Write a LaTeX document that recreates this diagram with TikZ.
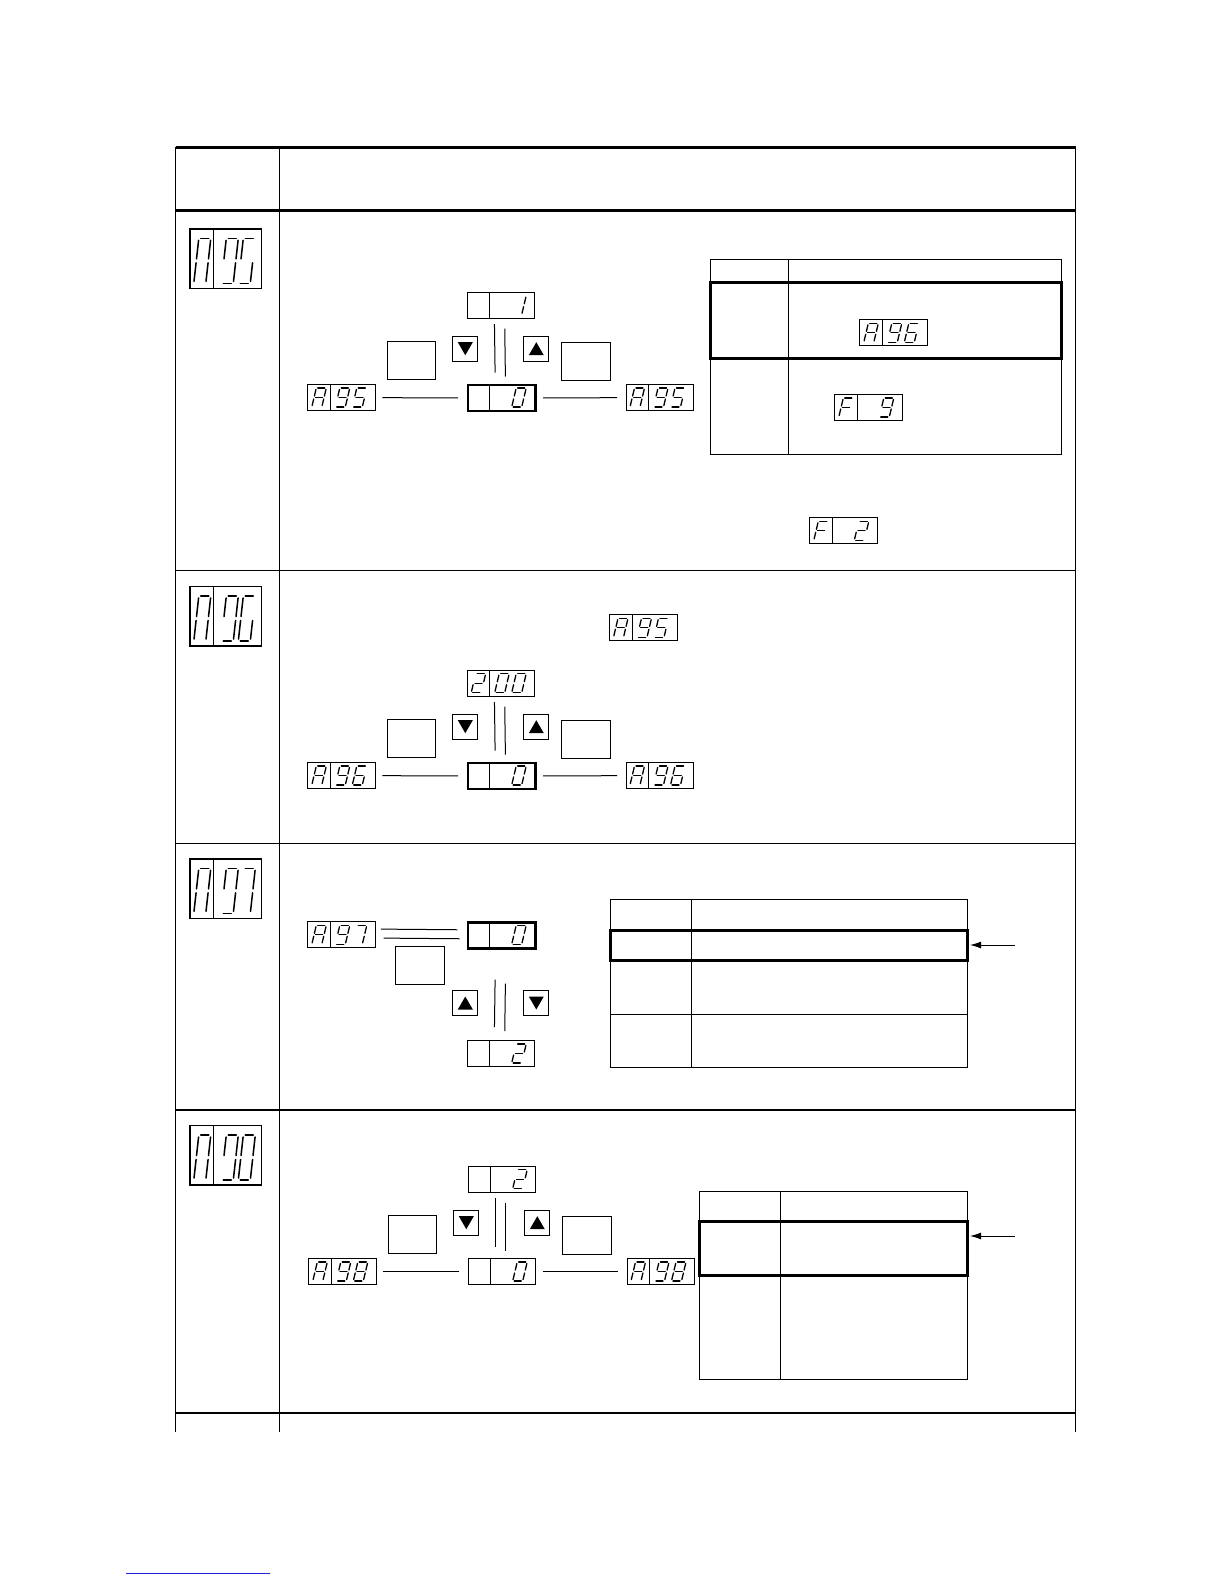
\documentclass[tikz,border=0pt]{standalone}
\usepackage{tikz}
\usetikzlibrary{positioning,arrows.meta,calc}
\usepackage{xcolor}
\definecolor{LinkBlue}{HTML}{1F1FE0}

% segment lists of the display characters (a top, b upper right, c lower right,
% d bottom, e lower left, f upper left, g middle)
\def\chA{a,b,c,e,f,g}
\def\chF{a,e,f,g}
\def\chZero{a,b,c,d,e,f}
\def\chOne{b,c}
\def\chTwo{a,b,g,e,d}
\def\chFive{a,f,g,c,d}
\def\chSix{a,f,g,e,c,d}
\def\chSeven{a,b,c}
\def\chEight{a,b,c,d,e,f,g}
\def\chNine{a,b,c,d,f,g}
% the large code displays show no middle segment
\def\bgA{a,b,c,e,f}
\def\bgFive{a,f,c,d}
\def\bgSix{a,f,e,c,d}
\def\bgSeven{a,b,c}
\def\bgEight{a,b,c,d,e,f}
\def\bgNine{a,b,c,d,f}

\tikzset{
  sseg/.style={line width=1.3pt, line cap=round, shorten <=1.5pt, shorten >=1.5pt},
  bseg/.style={line width=1.5pt, line cap=round, shorten <=2pt, shorten >=2pt},
}

% one slanted digit: x, y of lower left corner, width, height, slant, style, segments
\newcommand\segdigit[7]{%
  \path ({#1+#5},{#2-#4}) coordinate (sga1) coordinate (sgf1)
        ({#1+#5+#3},{#2-#4}) coordinate (sga2) coordinate (sgb1)
        ({#1+#5/2},{#2-#4/2}) coordinate (sgf2) coordinate (sge1) coordinate (sgg1)
        ({#1+#5/2+#3},{#2-#4/2}) coordinate (sgb2) coordinate (sgc1) coordinate (sgg2)
        ({#1},{#2}) coordinate (sgd1) coordinate (sge2)
        ({#1+#3},{#2}) coordinate (sgd2) coordinate (sgc2);
  \foreach \s in #7 {\draw[#6] (sg\s1) -- (sg\s2);}
}
% small two-cell display: [style] name, x, y, cell, second cell left, second cell right
\newcommand\smalldisp[7][sdisp]{%
  \node[#1] (#2) at (#3,#4) {};
  \draw[thinline] ({#3+23},{#4}) -- ({#3+23},{#4+26});
  \ifx#5\relax\else\segdigit{#3+4.5}{#4+23}{10}{19}{4.5}{sseg}{#5}\fi
  \ifx#6\relax\else\segdigit{#3+28}{#4+23}{10}{19}{4.5}{sseg}{#6}\fi
  \ifx#7\relax\else\segdigit{#3+45}{#4+23}{10}{19}{4.5}{sseg}{#7}\fi
}
% large code display in the left column
\newcommand\bigdisp[6]{%
  \node[bdisp] (#1) at (#2,#3) {};
  \draw[thinline] ({#2+24},{#3}) -- ({#2+24},{#3+59.4});
  \segdigit{#2+4.5}{#3+55}{12}{45}{5}{bseg}{#4}
  \segdigit{#2+32}{#3+55}{12}{45}{5}{bseg}{#5}
  \segdigit{#2+49}{#3+55}{12}{45}{5}{bseg}{#6}
}
\newcommand\downkey[3]{%
  \node[keybox] (#1) at (#2,#3) {};
  \fill ($(#1.center)+(-7.5,-6.5)$) -- ($(#1.center)+(7.5,-6.5)$) -- ($(#1.center)+(0,6.5)$) -- cycle;
}
\newcommand\upkey[3]{%
  \node[keybox] (#1) at (#2,#3) {};
  \fill ($(#1.center)+(-7.5,6.5)$) -- ($(#1.center)+(7.5,6.5)$) -- ($(#1.center)+(0,-6.5)$) -- cycle;
}

\begin{document}
\begin{tikzpicture}[x=1pt,y=-1pt,
    frame/.style={line width=1.5pt},
    heavy/.style={line width=3pt},
    thinline/.style={line width=1pt},
    sdisp/.style={draw, line width=1pt, inner sep=0pt, anchor=north west,
      minimum width=67.5pt, minimum height=26pt},
    middisp/.style={sdisp, line width=2.3pt},
    bdisp/.style={draw, line width=1.2pt, inner sep=0pt, anchor=north west,
      minimum width=71.4pt, minimum height=59.4pt},
    keybox/.style={draw, line width=1pt, inner sep=0pt, anchor=north west, minimum size=25pt},
    blankbox/.style={draw, line width=1pt, inner sep=0pt, anchor=north west,
      minimum width=48.5pt, minimum height=38pt},
    link/.style={thinline, shorten <=6.5pt, shorten >=8.5pt},
    pointer/.style={thinline, -{Latex[length=11pt,width=7pt]}},
  ]
  \useasboundingbox (0,0) rectangle (1224,1584);

  % outer table
  \draw[heavy] (175.7,147.4) -- (1075.6,147.4);
  \draw[heavy] (175.7,210) -- (1075.6,210);
  \draw[frame] (175.7,147.4) -- (175.7,1432);
  \draw[frame] (1075.6,147.4) -- (1075.6,1432);
  \draw[thinline] (279.7,147.4) -- (279.7,1432);
  \foreach \yy in {570.6,843.3,1110,1412.9}
    \draw[frame] (175.7,\yy) -- (1075.6,\yy);

  % codes
  \bigdisp{codeA95}{189.3}{228.3}{\bgA}{\bgNine}{\bgFive}
  \bigdisp{codeA96}{189.3}{586}{\bgA}{\bgNine}{\bgSix}
  \bigdisp{codeA97}{189.3}{858.3}{\bgA}{\bgNine}{\bgSeven}
  \bigdisp{codeA98}{189.3}{1125}{\bgA}{\bgNine}{\bgEight}

  % A95
  \smalldisp{r1top}{466.7}{291.7}{\relax}{\relax}{\chOne}
  \smalldisp[middisp]{r1mid}{466.7}{384}{\relax}{\relax}{\chZero}
  \smalldisp{r1left}{307.3}{384}{\chA}{\chNine}{\chFive}
  \smalldisp{r1right}{625.5}{384}{\chA}{\chNine}{\chFive}
  \node[blankbox] (r1set) at (386.7,340.7) {};
  \node[blankbox] (r1ent) at (561,342.3) {};
  \downkey{r1dn}{452.3}{335.7}
  \upkey{r1up}{523.3}{335.7}
  \draw[link] (r1left) -- (r1mid);
  \draw[link] (r1mid) -- (r1right);
  \draw[thinline] ($(r1top.south)+(-6.5,5.5)$) -- ($(r1mid.north)+(-6.5,-11.5)$);
  \draw[thinline] ($(r1top.south)+(3.8,10)$) -- ($(r1mid.north)+(3.8,-7.5)$);

  \draw[thinline] (710.7,259.3) rectangle (1061,454.3);
  \draw[thinline] (788.3,259.3) -- (788.3,454.3);
  \draw[heavy] (710.7,282.7) rectangle (1061,358.3);
  \smalldisp{t1next}{859.3}{319.3}{\chA}{\chNine}{\chSix}
  \smalldisp{t1err}{834.3}{394}{\chF}{\relax}{\chNine}
  \smalldisp{r1note}{809.3}{517.3}{\chF}{\relax}{\chTwo}

  % A96
  \smalldisp{r2ref}{609}{614.3}{\chA}{\chNine}{\chFive}
  \begin{scope}[shift={(0,378)}]
    \smalldisp{r2top}{466.7}{291.7}{\chTwo}{\chZero}{\chZero}
    \smalldisp[middisp]{r2mid}{466.7}{384}{\relax}{\relax}{\chZero}
    \smalldisp{r2left}{307.3}{384}{\chA}{\chNine}{\chSix}
    \smalldisp{r2right}{625.5}{384}{\chA}{\chNine}{\chSix}
    \node[blankbox] (r2set) at (386.7,340.7) {};
    \node[blankbox] (r2ent) at (561,342.3) {};
    \downkey{r2dn}{452.3}{335.7}
    \upkey{r2up}{523.3}{335.7}
    \draw[link] (r2left) -- (r2mid);
    \draw[link] (r2mid) -- (r2right);
    \draw[thinline] ($(r2top.south)+(-6.5,5.5)$) -- ($(r2mid.north)+(-6.5,-11.5)$);
    \draw[thinline] ($(r2top.south)+(3.8,10)$) -- ($(r2mid.north)+(3.8,-7.5)$);
  \end{scope}

  % A97
  \smalldisp{r3left}{307.3}{921.3}{\chA}{\chNine}{\chSeven}
  \smalldisp[middisp]{r3mid}{466.7}{921.3}{\relax}{\relax}{\chZero}
  \smalldisp{r3bot}{466.7}{1040}{\relax}{\relax}{\chTwo}
  \node[blankbox, minimum width=49.3pt, minimum height=38.3pt] (r3set) at (395,946) {};
  \upkey{r3up}{452.3}{990}
  \downkey{r3dn}{523.3}{990}
  \draw[thinline] ($(r3left.east)+(5,-5.7)$) -- ($(r3mid.west)+(-9.4,-5.7)$);
  \draw[thinline] ($(r3left.east)+(7.7,3.3)$) -- ($(r3mid.west)+(-7,3.3)$);
  \draw[thinline] ($(r3mid.south)+(-6.5,30)$) -- ($(r3bot.north)+(-6.5,-13)$);
  \draw[thinline] ($(r3mid.south)+(3.8,34)$) -- ($(r3bot.north)+(3.8,-9)$);

  \draw[thinline] (610.7,899.3) rectangle (967.7,1067);
  \draw[thinline] (691.3,899.3) -- (691.3,1067);
  \draw[thinline] (610.7,1014.7) -- (967.7,1014.7);
  \draw[heavy] (610.7,930.3) rectangle (967.7,960.3);
  \coordinate (t3tail) at (1015,945);
  \coordinate (t3row) at (970,945);
  \draw[pointer] (t3tail) -- (t3row);

  % A98
  \begin{scope}[shift={(1,874)}]
    \smalldisp{r4top}{466.7}{291.7}{\relax}{\relax}{\chTwo}
    \smalldisp{r4mid}{466.7}{384}{\relax}{\relax}{\chZero}
    \smalldisp{r4left}{307.3}{384}{\chA}{\chNine}{\chEight}
    \smalldisp{r4right}{625.5}{384}{\chA}{\chNine}{\chEight}
    \node[blankbox] (r4set) at (386.7,340.7) {};
    \node[blankbox] (r4ent) at (561,342.3) {};
    \downkey{r4dn}{452.3}{335.7}
    \upkey{r4up}{523.3}{335.7}
    \draw[link] (r4left) -- (r4mid);
    \draw[link] (r4mid) -- (r4right);
    \draw[thinline] ($(r4top.south)+(-6.5,5.5)$) -- ($(r4mid.north)+(-6.5,-11.5)$);
    \draw[thinline] ($(r4top.south)+(3.8,10)$) -- ($(r4mid.north)+(3.8,-7.5)$);
  \end{scope}

  \draw[thinline] (699.3,1191.7) rectangle (967.3,1379.6);
  \draw[thinline] (780,1191.7) -- (780,1379.6);
  \draw[heavy] (699.3,1221) rectangle (967.3,1275.3);
  \coordinate (t4tail) at (1015,1236);
  \coordinate (t4row) at (970,1236);
  \draw[pointer] (t4tail) -- (t4row);

  % link underline
  \coordinate (lnkA) at (126.2,1573.4);
  \coordinate (lnkB) at (269.6,1573.4);
  \draw[LinkBlue, line width=1pt] (lnkA) -- (lnkB);
\end{tikzpicture}
\end{document}
